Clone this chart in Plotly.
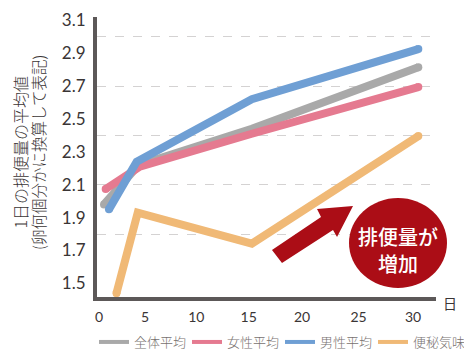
import plotly.graph_objects as go

# page pixels of the plot area (the page body adds an 8 px offset)
BODY = 8
PLOT_L, PLOT_R, PLOT_T, PLOT_B = 97, 436, 17, 297
W, H = 472 - BODY, 354 - BODY

series_names = ["全体平均", "女性平均", "男性平均", "便秘気味"]
colors = ["#a9a9a9", "#e57a90", "#6f9fd4", "#f0b976"]
days_gray = [0.48, 3.8, 14.6, 30.5]
days_pink = [0.64, 3.9, 14.6, 30.5]
days_blue = [0.95, 3.6, 14.6, 30.5]
days_orange = [1.67, 3.7, 14.6, 30.5]
gray = [1.98, 2.22, 2.44, 2.815]
pink = [2.074, 2.21, 2.41, 2.694]
blue = [1.95, 2.24, 2.62, 2.925]
orange = [1.44, 1.93, 1.742, 2.396]

y_ticks = [1.5, 1.7, 1.9, 2.1, 2.3, 2.5, 2.7, 2.9, 3.1]
y_grid = [1.8, 2.1, 2.4, 2.7, 3.0]
x_tick_labels = ["0", "5", "10", "15", "20", "25", "30"]
x_tick_vals = [0, 4.4, 9.3, 14.3, 19.4, 24.8, 30]

JP = "Noto Sans CJK JP"
NUM = "Lato, Noto Sans CJK JP"
INK = "#3a3535"

fig = go.Figure()
for name, color, xs, ys in zip(series_names, colors,
                               [days_gray, days_pink, days_blue, days_orange],
                               [gray, pink, blue, orange]):
    fig.add_trace(go.Scatter(x=xs, y=ys, mode="lines+markers", showlegend=False,
                             line=dict(color=color, width=8),
                             marker=dict(color=color, size=[8, 0, 0, 8], opacity=1,
                                         line=dict(width=0))))
    fig.add_trace(go.Scatter(x=[None], y=[None], mode="lines", name=name,
                             line=dict(color=color, width=4)))

def px(x):
    return (x - PLOT_L) / (PLOT_R - PLOT_L)
def py(y):
    return (PLOT_B - y) / (PLOT_B - PLOT_T)

arrow = [(272, 250), (321, 217), (317, 209), (353, 206), (337, 237), (333, 230), (282, 263)]
path = "M " + " L ".join(f"{px(a):.4f},{py(b):.4f}" for a, b in arrow) + " Z"
fig.add_shape(type="path", xref="paper", yref="paper", path=path,
              fillcolor="#ab0d16", line=dict(width=0), layer="above")
fig.add_shape(type="circle", xref="paper", yref="paper",
              x0=px(349), x1=px(447), y0=py(288), y1=py(198),
              fillcolor="#ab0d16", line=dict(width=0), layer="above")

def note(x, y, text, size, color, weight=400, angle=0):
    fig.add_annotation(xref="paper", yref="paper", x=px(x), y=py(y), xanchor="center", yanchor="middle",
                       showarrow=False, text=text, textangle=angle,
                       font=dict(family=JP, size=size, color=color, weight=weight))

note(398, 236, "排便量が", 20, "white", 500)
note(398, 263, "増加", 20, "white", 500)
note(450, 303, "日", 14, INK)
note(19.5, 152, "1日の排便量の平均値", 16, INK, 300, -90)
note(38, 153, "(卵何個分かに換算して表記)", 15.5, INK, 300, -90)

fig.update_layout(
    width=W, height=H,
    margin=dict(l=PLOT_L - BODY, r=W + BODY - PLOT_R, t=PLOT_T - BODY, b=H + BODY - PLOT_B,
                autoexpand=False),
    paper_bgcolor="white", plot_bgcolor="white",
    font=dict(family=NUM, color=INK),
    legend=dict(orientation="h", x=px(94), xanchor="left", y=py(327), yanchor="top",
                entrywidth=48, entrywidthmode="pixels", itemwidth=30,
                font=dict(family=JP, size=13, color="#77716f", weight=300), bgcolor="rgba(0,0,0,0)"),
    xaxis=dict(range=[-0.19, 32.19], tickvals=x_tick_vals, ticktext=x_tick_labels,
               showgrid=False, zeroline=False, showline=True, linecolor="#5c5858", linewidth=4,
               ticks="", tickfont=dict(size=14, family=NUM), ticklabelstandoff=4),
    yaxis=dict(range=[1.417, 3.12], tickvals=y_ticks, showgrid=False, zeroline=False,
               tickformat=".1f", showline=True, linecolor="#5c5858", linewidth=4,
               ticks="", tickfont=dict(size=17, family=NUM), ticklabelstandoff=4,
               minor=dict(tickvals=y_grid, showgrid=True, gridcolor="#d4d2d2", griddash="dash", gridwidth=1)),
)
fig.write_html("out.html")
